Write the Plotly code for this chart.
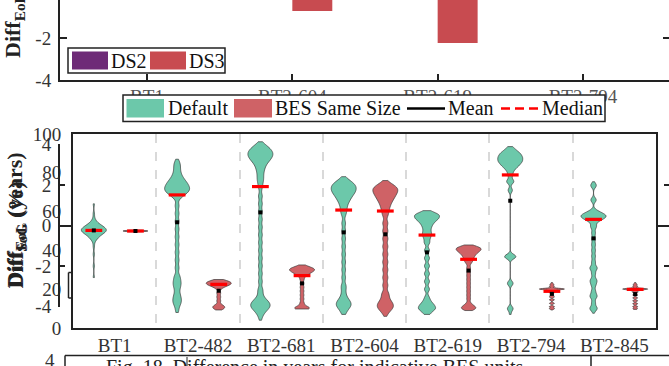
import numpy as np
import plotly.graph_objects as go

W, H = 669, 366


def px(x):
    return x / W


def py(y):
    return 1 - y / H


FONT = "Liberation Serif"

# ---------------- data: main violin chart (Diff SoG, %) ----------------
categories = ["BT1", "BT2-482", "BT2-681", "BT2-604", "BT2-619", "BT2-794", "BT2-845"]

# sample profiles: values and how many samples sit at each value
bt1_def_v = [26, 32, 38, 42, 44.5, 46, 47.5, 49, 50.5, 52, 53.5, 55, 56.5, 59, 64]
bt1_def_c = [1, 1, 1, 1, 1, 3, 5, 9, 12, 9, 5, 2, 1, 1, 1]
bt1_bes_v = [49.6, 50, 50.4]
bt1_bes_c = [1, 6, 1]

b482_def_v = [87, 85, 83, 81, 79, 77, 75, 73, 71, 69, 67, 63, 59, 55, 51, 47, 43, 39, 35, 31, 27,
              25, 23, 21, 19, 17, 15, 13, 11, 9, 8]
b482_def_c = [1, 3, 3, 3, 4, 6, 9, 11, 12, 8, 3, 3, 3, 3, 3, 3, 3, 3, 3, 3, 3,
              3, 4, 3, 2, 3, 4, 4, 2, 1, 1]
b482_bes_v = [25, 24, 23, 22, 21, 20, 18, 16, 14, 12, 11, 10, 9.3]
b482_bes_c = [3, 10, 12, 9, 4, 2, 3, 3, 3, 3, 6, 5, 1]

b681_def_v = [96, 94, 92, 90, 88, 86, 84, 82, 80, 78, 76, 74, 72, 68, 64, 60, 56, 52, 48, 44, 40,
              36, 32, 28, 24, 20, 18, 16, 14, 12, 10, 8, 6, 4]
b681_def_c = [1, 6, 10, 12, 11, 8, 5, 4, 3, 3, 3, 2, 2, 3, 3, 3, 3, 3, 3, 3, 3,
              3, 3, 3, 3, 3, 2, 3, 7, 10, 8, 4, 2, 1]
b681_bes_v = [32.5, 31.5, 30.5, 29.5, 28.5, 27.5, 26.5, 25, 23, 21, 19, 17, 15, 13, 11.5, 10.5, 9.8]
b681_bes_c = [2, 7, 12, 11, 8, 5, 3, 3, 3, 3, 3, 3, 3, 3, 3, 7, 6]

b604_def_v = [78, 76, 74, 72, 70, 68, 66, 64, 62, 60, 58, 54, 50, 46, 42, 38, 34, 30, 26, 22,
              20, 18, 16, 14, 12, 10, 8, 7]
b604_def_c = [1, 6, 11, 12, 11, 8, 6, 4, 3, 3, 2, 3, 3, 3, 3, 3, 3, 3, 3, 3,
              2, 2, 3, 6, 8, 5, 2, 1]
b604_bes_v = [76, 74, 72, 70, 68, 66, 64, 62, 60, 58, 54, 50, 46, 42, 38, 34, 30, 26, 22, 18,
              16, 14, 12, 10, 8, 6]
b604_bes_c = [1, 7, 12, 11, 9, 7, 5, 4, 3, 3, 4, 4, 4, 4, 4, 4, 4, 4, 4, 4,
              3, 5, 8, 7, 3, 1]

b619_def_v = [60.5, 58.5, 56.5, 54.5, 52.5, 50.5, 48.5, 46.5, 44, 40, 36, 32, 28, 24, 20,
              16, 14, 12, 10, 8, 7]
b619_def_c = [2, 11, 10, 6, 4, 3, 4, 3, 3, 3, 3, 3, 3, 3, 3,
              2, 3, 6, 8, 3, 1]
b619_bes_v = [42.8, 42, 41, 40, 39, 38, 37, 36, 35, 34, 33, 31, 29, 27, 25, 23, 21, 19, 17, 15,
              13, 12, 11, 10, 9]
b619_bes_c = [1, 8, 12, 10, 8, 6, 5, 4, 4, 3, 2, 3, 3, 3, 3, 3, 3, 3, 3, 3,
              2, 3, 6, 8, 2]

b794_def_v = [93.5, 92, 90, 88, 86, 84, 82, 80, 78.5, 75.5, 71, 36.8, 23, 10, 7]
b794_def_c = [1, 5, 10, 12, 12, 9, 5, 2, 2, 5, 3, 8, 4, 4, 1]
b794_bes_v = [23.4, 22.5, 21.5, 20.1, 19.2, 18.2, 17, 16, 14.5, 12.7, 11, 10, 9.3]
b794_bes_c = [1, 3, 4, 20, 5, 4, 3, 4, 4, 4, 4, 4, 1]

b845_def_v = [75.4, 73.4, 66, 60.5, 59.5, 58.5, 57.5, 56.5, 55.5, 54.5, 52.2, 49, 46, 43, 40, 37,
              34, 31, 28, 25, 22, 19, 16, 13, 10, 30.8, 23.9, 16.7, 10.1, 7.6]
b845_def_c = [1, 6, 6, 3, 6, 10, 12, 9, 5, 3, 6, 4, 4, 4, 4, 4,
              4, 4, 4, 4, 4, 4, 4, 4, 4, 4, 4, 4, 4, 1]
b845_bes_v = [23.4, 22.5, 21.5, 20.1, 19.3, 18.3, 17, 15.5, 14, 12.5, 11, 10, 9.6]
b845_bes_c = [1, 3, 4, 20, 6, 4, 4, 4, 4, 4, 4, 3, 1]

default_profiles = [(bt1_def_v, bt1_def_c), (b482_def_v, b482_def_c), (b681_def_v, b681_def_c),
                    (b604_def_v, b604_def_c), (b619_def_v, b619_def_c), (b794_def_v, b794_def_c),
                    (b845_def_v, b845_def_c)]
bes_profiles = [(bt1_bes_v, bt1_bes_c), (b482_bes_v, b482_bes_c), (b681_bes_v, b681_bes_c),
                (b604_bes_v, b604_bes_c), (b619_bes_v, b619_bes_c), (b794_bes_v, b794_bes_c),
                (b845_bes_v, b845_bes_c)]
default_bw = [1.2, 1.5, 1.5, 1.5, 1.2, 1.2, 1.2]
bes_bw = [0.3, 0.8, 0.8, 1.5, 0.9, 0.35, 0.35]

default_mean = [50.3, 54.5, 59.6, 49.3, 39.0, 65.6, 46.2]
default_median = [50.3, 68.6, 72.9, 60.8, 47.9, 78.9, 56.0]
bes_mean = [50.0, 19.2, 23.0, 48.3, 29.6, 17.6, 17.5]
bes_median = [50.0, 22.5, 27.0, 60.3, 35.4, 18.9, 19.9]

sog_ticks = [0, 20, 40, 60, 80, 100]

# ---------------- data: EoL bar chart (top) ----------------
eol_categories = ["BT1", "BT2-604", "BT2-619", "BT2-794"]
ds2_values = [-0.10, -0.12, -0.15, -0.10]
ds3_values = [-0.08, -0.71, -2.24, -0.05]
eol_top_ticks = [-4, -2]
eol_mid_ticks = [-4, -2, 0, 2, 4]

# ---------------- styles ----------------
GREEN = "#6cc8aa"
RED = "#cf6266"
DS2_COLOR = "#6e2a77"
DS3_COLOR = "#c84b50"
INK = "#222222"

fig = go.Figure()

# main violins
offset = 0.25
for i, cat in enumerate(categories):
    for (vals, cnts), bw, color, dx in [
        (default_profiles[i], default_bw[i], GREEN, -offset),
        (bes_profiles[i], bes_bw[i], RED, offset),
    ]:
        fig.add_trace(go.Violin(
            y=np.repeat(vals, cnts), x0=i + dx, width=0.3,
            bandwidth=bw, spanmode="hard", scalemode="width",
            points=False, box_visible=False, meanline_visible=False,
            fillcolor=color, opacity=1, line=dict(color="#3a3a3a", width=0.7),
            showlegend=False, hoverinfo="skip", xaxis="x", yaxis="y",
        ))

pos_def = [i - offset for i in range(len(categories))]
pos_bes = [i + offset for i in range(len(categories))]
fig.add_trace(go.Scatter(
    x=pos_def + pos_bes, y=default_median + bes_median, mode="markers",
    marker=dict(symbol="line-ew", size=12, line=dict(width=3.2, color="#ff0000")),
    showlegend=False, hoverinfo="skip", xaxis="x", yaxis="y"))
fig.add_trace(go.Scatter(
    x=pos_def + pos_bes, y=default_mean + bes_mean, mode="markers",
    marker=dict(symbol="square", size=4, color="black"),
    showlegend=False, hoverinfo="skip", xaxis="x", yaxis="y"))

# top bar chart
fig.add_trace(go.Bar(x=list(range(len(eol_categories))), y=ds2_values, offset=-0.275, width=0.275,
                     marker=dict(color=DS2_COLOR, line=dict(width=0)), showlegend=False,
                     xaxis="x3", yaxis="y3"))
fig.add_trace(go.Bar(x=list(range(len(eol_categories))), y=ds3_values, offset=0, width=0.275,
                     marker=dict(color=DS3_COLOR, line=dict(width=0)), showlegend=False,
                     xaxis="x3", yaxis="y3"))

# empty traces to create background axes
for ya in ["y2", "y4", "y5", "y6"]:
    fig.add_trace(go.Scatter(x=[None], y=[None], xaxis="x2", yaxis=ya, showlegend=False))
fig.add_trace(go.Scatter(x=[None], y=[None], xaxis="x3", yaxis="y7", showlegend=False))

tickfont = dict(family=FONT, size=19, color="#333333")
common = dict(automargin=False, showgrid=False, zeroline=False)

fig.update_layout(
    width=W, height=H, margin=dict(l=0, r=0, t=0, b=0, pad=0, autoexpand=False), autosize=False,
    paper_bgcolor="white", plot_bgcolor="rgba(0,0,0,0)",
    showlegend=False, violinmode="overlay", barmode="overlay",
    font=dict(family=FONT, color=INK),
    # main violin axes
    xaxis=dict(domain=[px(73), px(656)], range=[-0.5, len(categories) - 0.5], anchor="y",
               tickvals=list(range(len(categories))), ticktext=categories, ticks="",
               tickfont=tickfont, ticklabelstandoff=-1,
               showline=True, mirror=True, linecolor=INK, linewidth=2,
               minor=dict(tickmode="array", tickvals=[i + 0.5 for i in range(len(categories) - 1)],
                          showgrid=True, gridcolor="#d9d9d9", griddash="dash", gridwidth=1.5,
                          ticks=""), **common),
    yaxis=dict(domain=[py(328), py(134)], range=[0, 100], anchor="x",
               tickvals=sog_ticks, ticks="", tickfont=tickfont, ticklabelstandoff=6,
               showline=True, mirror=True, linecolor=INK, linewidth=2, **common),
    # background EoL chart (middle)
    xaxis2=dict(domain=[px(60), 1], range=[0, 1], anchor="y2", visible=False, **common),
    yaxis2=dict(domain=[py(306.7), py(144.3)], range=[-4, 4], anchor="x2",
                tickvals=eol_mid_ticks, ticktext=[str(t) for t in eol_mid_ticks],
                ticks="inside", ticklen=5, tickwidth=2, tickcolor=INK,
                tickfont=tickfont, ticklabelstandoff=3,
                showline=True, linecolor=INK, linewidth=2, **common),
    yaxis4=dict(overlaying="y2", anchor="x2", side="left", range=[-4, 4],
                tickvals=[-4, 0, 4], ticks="inside", ticklen=13, tickwidth=2, tickcolor=INK,
                showticklabels=False, showline=False, **common),
    yaxis5=dict(overlaying="y2", anchor="x2", side="right", range=[-4, 4],
                tickvals=eol_mid_ticks, ticks="inside", ticklen=5, tickwidth=2, tickcolor=INK,
                showticklabels=False, showline=False, **common),
    yaxis6=dict(overlaying="y2", anchor="x2", side="right", range=[-4, 4],
                tickvals=[-4, 0, 4], ticks="inside", ticklen=13, tickwidth=2, tickcolor=INK,
                showticklabels=False, showline=False, **common),
    # top bar chart
    xaxis3=dict(domain=[px(60), 1], range=[-0.5986, 3.5918], anchor="y3",
                tickvals=list(range(len(eol_categories))), ticktext=eol_categories,
                ticks="inside", ticklen=6, tickwidth=2, tickcolor=INK,
                tickfont=dict(family=FONT, size=19, color="#555555"), ticklabelstandoff=-2,
                showline=True, linecolor=INK, linewidth=2, **common),
    yaxis3=dict(domain=[py(80), 1], range=[-4, -0.19], anchor="x3",
                tickvals=eol_top_ticks, ticktext=[str(t) for t in eol_top_ticks],
                ticks="inside", ticklen=7, tickwidth=2, tickcolor=INK,
                tickfont=tickfont, ticklabelstandoff=3,
                showline=True, linecolor=INK, linewidth=2, **common),
    yaxis7=dict(overlaying="y3", anchor="x3", side="right", range=[-4, -0.19],
                tickvals=eol_top_ticks, ticks="inside", ticklen=6, tickwidth=2, tickcolor=INK,
                showticklabels=False, showline=False, **common),
)

shapes = []
annotations = []


def rect(x0, y0, x1, y1, fill, line_color=None, lw=0, layer="above"):
    shapes.append(dict(type="rect", xref="paper", yref="paper",
                       x0=px(x0), x1=px(x1), y0=py(y1), y1=py(y0),
                       fillcolor=fill, line=dict(color=line_color or fill, width=lw), layer=layer))


def hline(x0, x1, y, color=INK, lw=1.5, dash="solid", layer="above"):
    shapes.append(dict(type="line", xref="paper", yref="paper", x0=px(x0), x1=px(x1),
                       y0=py(y), y1=py(y), line=dict(color=color, width=lw, dash=dash), layer=layer))


def vline(x, y0, y1, color=INK, lw=1.5, layer="above"):
    shapes.append(dict(type="line", xref="paper", yref="paper", x0=px(x), x1=px(x),
                       y0=py(y0), y1=py(y1), line=dict(color=color, width=lw), layer=layer))


def text(x, y, s, size=20, xanchor="left", yanchor="middle", color="#111111", angle=0):
    annotations.append(dict(x=px(x), y=py(y), xref="paper", yref="paper", text=s,
                            showarrow=False, xanchor=xanchor, yanchor=yanchor, textangle=angle,
                            font=dict(family=FONT, size=size, color=color)))


# DS2/DS3 legend (top chart)
rect(68, 48, 225, 73, "white", INK, 1.5)
rect(72, 51.5, 108, 69.5, DS2_COLOR)
text(109, 61, "DS2", size=20)
rect(150, 51.5, 186, 69.5, DS3_COLOR)
text(187, 61, "DS3", size=20)

# main legend
rect(123, 95, 605, 121.5, "white", INK, 1.5)
rect(126.5, 99, 164, 117.5, GREEN)
text(166, 108.5, "Default")
rect(234, 99, 272, 117.5, RED)
text(273, 108.5, "BES Same Size")
hline(407, 445, 108.5, color="black", lw=2.5)
text(446, 108.5, "Mean")
hline(501, 540, 108.5, color="#ff0000", lw=2.5, dash="9px,5px")
text(540, 108.5, "Median")

# fragment of the hidden legend behind the violin panel
vline(68.5, 272.5, 298)
hline(68.5, 73, 272.5)
hline(68.5, 73, 298)
rect(71.5, 275.5, 73, 295.5, DS2_COLOR, layer="below")

# axis titles
text(14.5, 60, "<b>Diff<sub>EoL</sub> (years)</b>", size=22, xanchor="center", yanchor="bottom",
     color=INK, angle=-90)
text(15, 290, "<b>Diff<sub>EoL</sub> (years)</b>", size=22, xanchor="center", yanchor="bottom",
     color=INK, angle=-90)
text(16, 291, "<b>Diff<sub>SoG</sub> (%)</b>", size=22, xanchor="center", yanchor="bottom",
     color=INK, angle=-90)

# bottom strip: next figure edge and caption
text(57, 360, "4", size=19, xanchor="right", color="#333333")
hline(65, 669, 355.5, lw=1.5)
vline(65, 355.5, 366)
vline(591, 355.5, 366)
vline(187, 357, 366, lw=1)
text(104, 354, "Fig. 18. Difference in years for indicative BES units.", size=20,
     yanchor="top", color=INK)

fig.update_layout(shapes=shapes, annotations=annotations)

fig.write_html("out.html", config={"displayModeBar": False},
               post_script="document.body.style.margin='0';document.body.style.overflow='hidden';")
